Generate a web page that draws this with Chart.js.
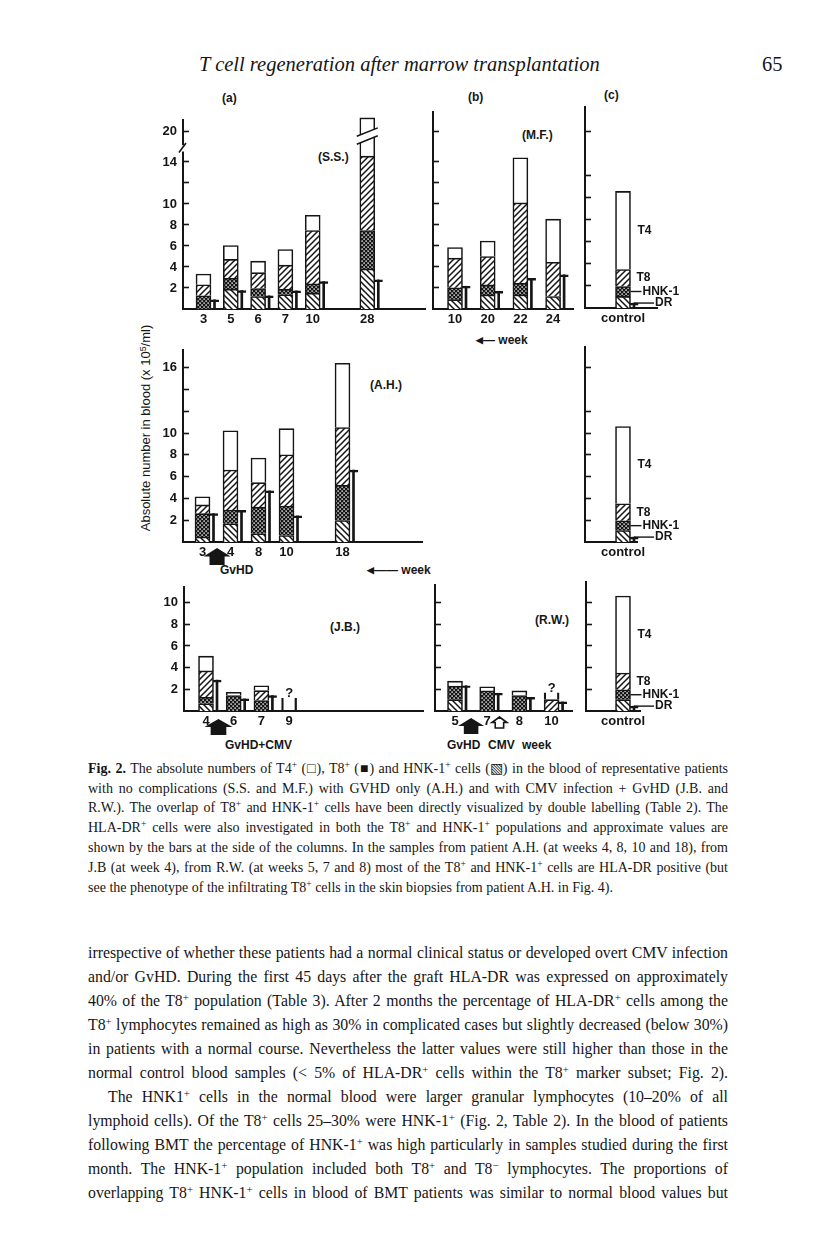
<!DOCTYPE html>
<html lang="en">
<head>
<meta charset="utf-8">
<title>Fig. 2 - T cell regeneration after marrow transplantation</title>
<script src="https://cdn.jsdelivr.net/npm/chart.js@4.4.1/dist/chart.umd.min.js"></script>
<style>
  html, body { margin: 0; padding: 0; background: #fff; }
  #page { position: relative; width: 816px; height: 1236px; overflow: hidden; color: #161616;
          font-family: 'Liberation Serif', 'Times New Roman', serif; }
  #page canvas { position: absolute; }
  .hd { position: absolute; top: 52px; font-size: 20.5px; line-height: 24px; white-space: nowrap; }
  .tag { position: absolute; font-family: 'Liberation Sans', Arial, sans-serif; font-weight: bold;
         font-size: 12px; line-height: 12px; white-space: nowrap; }
  .cap, .txt { position: absolute; left: 88px; width: 640px; white-space: nowrap;
               text-align: justify; text-align-last: justify; }
  .cap { font-size: 14px; line-height: 20px; }
  .txt { font-size: 15.8px; line-height: 24px; }
  .last { text-align-last: left; }
  .s { font-size: 0.68em; position: relative; top: -0.5em; line-height: 0; }
  .arr { font-size: 9px; position: relative; top: -1px; }
  .ylab { position: absolute; left: 145px; top: 428px; transform: translate(-50%, -50%) rotate(-90deg);
          font-family: 'Liberation Sans', Arial, sans-serif; font-size: 13px; white-space: nowrap; }
</style>
</head>
<body>
<div id="page">
  <div class="hd" style="left:199px;font-style:italic">T cell regeneration after marrow transplantation</div>
  <div class="hd" style="left:762px">65</div>

  <div class="tag" style="left:222px;top:92px">(a)</div>
  <div class="tag" style="left:468px;top:91px">(b)</div>
  <div class="tag" style="left:604px;top:89px">(c)</div>

  <div class="tag" style="left:318px;top:151px">(S.S.)</div>
  <div class="tag" style="left:522px;top:129px">(M.F.)</div>
  <div class="tag" style="left:370px;top:379px">(A.H.)</div>
  <div class="tag" style="left:330px;top:621px">(J.B.)</div>
  <div class="tag" style="left:535px;top:614px">(R.W.)</div>

  <div class="tag" style="left:476px;top:334px"><span class="arr">&#9664;</span>&#8212; week</div>
  <div class="tag" style="left:367px;top:564px"><span class="arr">&#9664;</span>&#8212;&#8212; week</div>
  <div class="tag" style="left:220px;top:564px">GvHD</div>
  <div class="tag" style="left:225px;top:739px">GvHD+CMV</div>
  <div class="tag" style="left:447px;top:739px">GvHD</div>
  <div class="tag" style="left:488px;top:739px">CMV</div>
  <div class="tag" style="left:522px;top:739px">week</div>

  <div class="ylab">Absolute number in blood (x 10<span class="s">5</span>/ml)</div>

  <div class="cap" style="top:759px"><b>Fig. 2.</b> The absolute numbers of T4<span class="s">+</span> (&#9633;), T8<span class="s">+</span> (&#9632;) and HNK-1<span class="s">+</span> cells (&#9639;) in the blood of representative patients</div>
  <div class="cap" style="top:779px">with no complications (S.S. and M.F.) with GVHD only (A.H.) and with CMV infection + GvHD (J.B. and</div>
  <div class="cap" style="top:798px">R.W.). The overlap of T8<span class="s">+</span> and HNK-1<span class="s">+</span> cells have been directly visualized by double labelling (Table 2). The</div>
  <div class="cap" style="top:818px">HLA-DR<span class="s">+</span> cells were also investigated in both the T8<span class="s">+</span> and HNK-1<span class="s">+</span> populations and approximate values are</div>
  <div class="cap" style="top:838px">shown by the bars at the side of the columns. In the samples from patient A.H. (at weeks 4, 8, 10 and 18), from</div>
  <div class="cap" style="top:858px">J.B (at week 4), from R.W. (at weeks 5, 7 and 8) most of the T8<span class="s">+</span> and HNK-1<span class="s">+</span> cells are HLA-DR positive (but</div>
  <div class="cap last" style="top:878px">see the phenotype of the infiltrating T8<span class="s">+</span> cells in the skin biopsies from patient A.H. in Fig. 4).</div>

  <div class="txt" style="top:941px">irrespective of whether these patients had a normal clinical status or developed overt CMV infection</div>
  <div class="txt" style="top:965px">and/or GvHD. During the first 45 days after the graft HLA-DR was expressed on approximately</div>
  <div class="txt" style="top:989px">40% of the T8<span class="s">+</span> population (Table 3). After 2 months the percentage of HLA-DR<span class="s">+</span> cells among the</div>
  <div class="txt" style="top:1013px">T8<span class="s">+</span> lymphocytes remained as high as 30% in complicated cases but slightly decreased (below 30%)</div>
  <div class="txt" style="top:1037px">in patients with a normal course. Nevertheless the latter values were still higher than those in the</div>
  <div class="txt" style="top:1061px">normal control blood samples (&lt; 5% of HLA-DR<span class="s">+</span> cells within the T8<span class="s">+</span> marker subset; Fig. 2).</div>
  <div class="txt" style="top:1085px;left:108px;width:620px">The HNK1<span class="s">+</span> cells in the normal blood were larger granular lymphocytes (10&#8211;20% of all</div>
  <div class="txt" style="top:1109px">lymphoid cells). Of the T8<span class="s">+</span> cells 25&#8211;30% were HNK-1<span class="s">+</span> (Fig. 2, Table 2). In the blood of patients</div>
  <div class="txt" style="top:1133px">following BMT the percentage of HNK-1<span class="s">+</span> was high particularly in samples studied during the first</div>
  <div class="txt" style="top:1157px">month. The HNK-1<span class="s">+</span> population included both T8<span class="s">+</span> and T8<span class="s">&#8722;</span> lymphocytes. The proportions of</div>
  <div class="txt" style="top:1181px">overlapping T8<span class="s">+</span> HNK-1<span class="s">+</span> cells in blood of BMT patients was similar to normal blood values but</div>
</div>

<script>
// Values (x 10^5 cells/ml). Each array is the top of one
// stacked segment, from the bottom up:
//   Hnk = HNK-1+ only (\\\), Dbl = T8+ HNK-1+ overlap (dotted),
//   T8 = T8+ (///), T4 = T4+ (open); Dr = HLA-DR+ bar beside the column.
// An empty week label leaves a gap on the axis.

// (a) S.S.
const ssWeeks = ['3', '5', '6', '7', '10', '', '28'];
const ssT4  = [3.33, 6.04, 4.56, 5.66, 8.93, null, 21.3];
const ssT8  = [2.30, 4.72, 3.46, 4.18, 7.48, null, 14.56];
const ssDbl = [1.26, 2.92, 1.95, 1.89, 2.39, null, 7.48];
const ssHnk = [0, 1.89, 1.19, 1.35, 1.51, null, 3.80];
const ssDr  = [0.88, 1.76, 1.26, 1.73, 2.61, null, 2.77];

// (b) M.F.
const mfWeeks = ['10', '20', '22', '24'];
const mfT4  = [5.85, 6.47, 14.4, 8.55];
const mfT8  = [4.84, 4.99, 10.1, 4.45];
const mfDbl = [2.02, 2.29, 2.46, 1.19];
const mfHnk = [0.89, 1.34, 1.34, 1.19];
const mfDr  = [2.17, 1.69, 2.91, 3.26];

// A.H.
const ahWeeks = ['3', '4', '8', '10', '', '18'];
const ahT4  = [4.15, 10.2, 7.7, 10.4, null, 16.4];
const ahT8  = [3.4, 6.6, 5.45, 8.0, null, 10.5];
const ahDbl = [2.6, 2.94, 3.2, 3.3, null, 5.2];
const ahHnk = [0.45, 1.67, 0.76, 0.6, null, 1.97];
const ahDr  = [2.6, 2.9, 4.7, 2.4, null, 6.6];

// J.B.
const jbWeeks = ['4', '6', '7', '9'];
const jbT4  = [5.06, 1.73, 2.33, 1.2];
const jbT8  = [3.7, 1.42, 1.88, 0];
const jbDbl = [1.27, 1.42, 0.97, 0];
const jbHnk = [0.67, 0, 0, 0];
const jbDr  = [2.85, 1.12, 1.42, null];
const jbUnsure = [false, false, false, true];   // column marked "?"

// R.W.
const rwWeeks = ['5', '7', '8', '10'];
const rwT4  = [2.75, 2.24, 1.85, 1.7];
const rwT8  = [2.3, 1.85, 1.43, 1.05];
const rwDbl = [2.3, 1.85, 1.43, 0];
const rwHnk = [1.05, 0, 0, 0];
const rwDr  = [2.33, 1.64, 1.25, 0.84];
const rwUnsure = [false, false, false, true];

// (c) normal control
const ctrlWeeks = ['control'];
const ctrlT4  = [10.6];
const ctrlT8  = [3.5];
const ctrlDbl = [1.95];
const ctrlHnk = [1.05];
const ctrlDr  = [0.45];

// y ticks
const topTicks = [2, 4, 6, 8, 10, 12, 14, 20];
const topTickLabels = ['2', '4', '6', '8', '10', '', '14', '20'];
const ahTicks = [2, 4, 6, 8, 10, 12, 14, 16];
const ahTickLabels = ['2', '4', '6', '8', '10', '', '', '16'];
const ctrlTicks = [2, 4, 6, 8, 10, 12, 16];
const lowTicks = [2, 4, 6, 8, 10];
const lowTickLabels = ['2', '4', '6', '8', '10'];

const INK = '#151515';
const SANS = "'Liberation Sans', Arial, sans-serif";
const YW = 34, XH = 34, PT = 18;   // y axis width, x axis height, top room
const DR_GAP = 11;                  // px from column centre to the DR bar

/**
 * Fill patterns for the segments
 */
function tile(n, draw) {
    const c = document.createElement('canvas');
    c.width = c.height = n;
    const g = c.getContext('2d');
    draw(g, n);
    return g.createPattern(c, 'repeat');
}
const fwdHatch = tile(6, (g, n) => {
    g.fillStyle = '#fff'; g.fillRect(0, 0, n, n);
    g.strokeStyle = INK; g.lineWidth = 1.5;
    g.beginPath();
    g.moveTo(-1, n + 1); g.lineTo(n + 1, -1);
    g.moveTo(-1, 1); g.lineTo(1, -1);
    g.moveTo(n - 1, n + 1); g.lineTo(n + 1, n - 1);
    g.stroke();
});
const backHatch = tile(6, (g, n) => {
    g.fillStyle = '#fff'; g.fillRect(0, 0, n, n);
    g.strokeStyle = INK; g.lineWidth = 1.5;
    g.beginPath();
    g.moveTo(-1, -1); g.lineTo(n + 1, n + 1);
    g.moveTo(n - 1, -1); g.lineTo(n + 1, 1);
    g.moveTo(-1, n - 1); g.lineTo(1, n + 1);
    g.stroke();
});
const dotFill = tile(4, (g, n) => {
    g.fillStyle = INK; g.fillRect(0, 0, n, n);
    g.fillStyle = '#fff';
    g.fillRect(0.4, 0.4, 1.4, 1.4);
    g.fillRect(2.4, 2.4, 1.4, 1.4);
});

/**
 * Extra drawing: "?" marks, axis breaks, GvHD/CMV arrows, control labels
 */
function makeDecor(cfg) {
    return {
        id: 'decor',
        afterDatasetsDraw(chart) {
            const ctx = chart.ctx;
            const a = chart.chartArea;
            const xs = chart.scales.x, ys = chart.scales.y;
            const py = v => ys.getPixelForValue(v);
            ctx.save();
            ctx.fillStyle = INK;
            ctx.strokeStyle = INK;

            // open columns and the broken column
            const meta = chart.getDatasetMeta(3);
            chart.data.datasets[3].data.forEach((d, i) => {
                const el = meta.data[i];
                if (d.open) {
                    ctx.font = 'bold 13px ' + SANS;
                    ctx.textAlign = 'center';
                    ctx.textBaseline = 'bottom';
                    ctx.fillText('?', el.x, el.y + 2);
                }
                if (d.cut && cfg.cut) {
                    const l = el.x - el.width / 2 - 3, r = el.x + el.width / 2 + 3;
                    const [c0, c1, g] = cfg.cut;
                    ctx.fillStyle = '#fff';
                    ctx.beginPath();
                    ctx.moveTo(l, py(c0)); ctx.lineTo(r, py(c1));
                    ctx.lineTo(r, py(c1 + g)); ctx.lineTo(l, py(c0 + g));
                    ctx.closePath(); ctx.fill();
                    ctx.lineWidth = 1.6;
                    ctx.beginPath();
                    ctx.moveTo(l, py(c0)); ctx.lineTo(r, py(c1));
                    ctx.moveTo(l, py(c0 + g)); ctx.lineTo(r, py(c1 + g));
                    ctx.stroke();
                    ctx.fillStyle = INK;
                }
            });

            if (cfg.axisBreak) {
                const x = a.left;
                ctx.fillStyle = '#fff';
                ctx.fillRect(x - 3, py(15.6), 6, py(15.0) - py(15.6));
                ctx.lineWidth = 1.6;
                ctx.beginPath();
                ctx.moveTo(x - 4, py(14.9)); ctx.lineTo(x + 3, py(15.8));
                ctx.stroke();
                ctx.fillStyle = INK;
            }

            // event arrows below the axis
            (cfg.marks || []).forEach(m => {
                const cx = xs.getPixelForValue(m.at), ty = a.bottom + m.dy;
                const hw = m.w / 2, sw = m.w * 0.28, hh = m.h * 0.5;
                ctx.beginPath();
                ctx.moveTo(cx, ty);
                ctx.lineTo(cx + hw, ty + hh); ctx.lineTo(cx + sw, ty + hh);
                ctx.lineTo(cx + sw, ty + m.h); ctx.lineTo(cx - sw, ty + m.h);
                ctx.lineTo(cx - sw, ty + hh); ctx.lineTo(cx - hw, ty + hh);
                ctx.closePath();
                if (m.open) { ctx.lineWidth = 1.6; ctx.stroke(); } else { ctx.fill(); }
            });

            // legend labels of the control column
            if (cfg.ctrl) {
                const c = cfg.ctrl;
                const el = meta.data[0];
                const right = el.x + el.width / 2;
                ctx.font = 'bold 12px ' + SANS;
                ctx.textAlign = 'left';
                ctx.textBaseline = 'middle';
                ctx.lineWidth = 1.4;
                ctx.fillText('T4', right + 7, py((c.t8 + c.t4) / 2));
                ctx.fillText('T8', right + 6, py((c.dbl + c.t8) / 2));
                const yh = py((c.hnk + c.dbl) / 2);
                ctx.beginPath(); ctx.moveTo(right, yh); ctx.lineTo(right + 11, yh); ctx.stroke();
                ctx.fillText('HNK-1', right + 12, yh);
                const sx = xs.getPixelForValue(c.drX), yd = py(c.dr);
                ctx.beginPath(); ctx.moveTo(sx, yd); ctx.lineTo(sx + 20, yd); ctx.stroke();
                ctx.fillText('DR', sx + 21, yd);
            }
            ctx.restore();
        }
    };
}

/**
 * Builds one panel: stacked columns as floating bars + DR side bars
 */
function makePanel(p) {
    const padR = p.padR || 6;
    const left = p.axisX - YW, top = p.top - PT;
    const cv = document.createElement('canvas');
    cv.width = p.right - left + padR;
    cv.height = p.base + XH - top;
    cv.style.left = left + 'px';
    cv.style.top = top + 'px';
    document.getElementById('page').appendChild(cv);

    // broken axis: values above brk.at are moved down by brk.shift
    const disp = v => (p.brk && v > p.brk.at) ? v - p.brk.shift : v;
    const seg = (lo, hi, extra) => hi.map((h, i) => {
        const l = lo ? lo[i] : 0;
        if (h == null || l == null || h - l < 0.01) return null;
        return Object.assign({x: i, y: [disp(l), disp(h)]}, extra ? extra(i) : {});
    }).filter(Boolean);
    const off = DR_GAP / p.slot;
    const drData = () => p.dr.map((v, i) => v == null ? null : {x: i + off, y: [0, v]}).filter(Boolean);

    const bar = {grouped: false, barThickness: 15, borderColor: INK, borderWidth: 1.6,
                 borderSkipped: 'bottom', clip: false};
    const isOpen = c => c.raw && c.raw.open;
    const tickFont = {family: SANS, size: 13, weight: 'bold'};

    new Chart(cv, {
        type: 'bar',
        data: {
            datasets: [
                {...bar, label: 'HNK-1+', data: seg(null, p.hnk), backgroundColor: backHatch},
                {...bar, label: 'T8+ HNK-1+', data: seg(p.hnk, p.dbl), backgroundColor: dotFill},
                {...bar, label: 'T8+', data: seg(p.dbl, p.t8), backgroundColor: fwdHatch},
                {...bar, label: 'T4+',
                    data: seg(p.t8, p.t4, i => ({
                        open: !!(p.unsure && p.unsure[i]),
                        cut: !!(p.brk && p.t4[i] > p.brk.at)
                    })),
                    backgroundColor: c => isOpen(c) ? 'rgba(0,0,0,0)' : '#fff',
                    borderWidth: c => isOpen(c) ? {left: 1.6, right: 1.6, top: 0, bottom: 0} : 1.6},
                {...bar, label: 'HLA-DR+', data: drData(), barThickness: 2,
                    backgroundColor: INK, borderWidth: 0},
                {...bar, label: 'HLA-DR+ top', data: drData(), barThickness: 9,
                    backgroundColor: 'rgba(0,0,0,0)',
                    borderWidth: {top: 1.8, left: 0, right: 0, bottom: 0}}
            ]
        },
        options: {
            responsive: false,
            animation: false,
            events: [],
            layout: {padding: {top: PT, right: padR, left: 0, bottom: 0}},
            plugins: {legend: {display: false}, tooltip: {enabled: false}},
            scales: {
                x: {
                    type: 'linear',
                    min: (p.axisX - p.c0) / p.slot,
                    max: (p.right - p.c0) / p.slot,
                    offset: false,
                    afterBuildTicks: s => {
                        s.ticks = p.weeks.map((w, i) => ({value: i, w})).filter(t => t.w);
                    },
                    ticks: {autoSkip: false, maxRotation: 0, padding: 3, color: INK, font: tickFont,
                            callback: v => p.weeks[Math.round(v)]},
                    grid: {display: false, drawTicks: false, offset: false},
                    border: {display: true, color: INK, width: 2},
                    afterFit: s => { s.height = XH; }
                },
                y: {
                    min: 0,
                    max: (p.base - p.top) / p.pxu,
                    afterBuildTicks: s => { s.ticks = p.yTicks.map(v => ({value: disp(v)})); },
                    ticks: {autoSkip: false, padding: 12, color: INK, font: tickFont,
                            callback: (v, i) => p.yLabels ? p.yLabels[i] : ''},
                    grid: {display: true, drawOnChartArea: false, drawTicks: true, tickLength: -6,
                           tickColor: INK, tickWidth: 1.6},
                    border: {display: true, color: INK, width: 2},
                    afterFit: s => { s.width = YW; }
                }
            }
        },
        plugins: [makeDecor({
            cut: p.brk ? [15.7, 16.5, 0.75] : null,
            axisBreak: p.axisBreak,
            marks: p.marks,
            ctrl: p.ctrl ? {t4: p.t4[0], t8: p.t8[0], dbl: p.dbl[0], hnk: p.hnk[0], dr: p.dr[0], drX: off} : null
        })]
    });
}

const ctrl = {weeks: ctrlWeeks, t4: ctrlT4, t8: ctrlT8, dbl: ctrlDbl, hnk: ctrlHnk, dr: ctrlDr,
              c0: 623, slot: 30, ctrl: true};

// top row
makePanel({weeks: ssWeeks, t4: ssT4, t8: ssT8, dbl: ssDbl, hnk: ssHnk, dr: ssDr,
           axisX: 183, right: 425, top: 118, base: 309, pxu: 10.6, c0: 203.5, slot: 27.3,
           yTicks: topTicks, yLabels: topTickLabels, brk: {at: 16, shift: 3.1}, axisBreak: true});
makePanel({weeks: mfWeeks, t4: mfT4, t8: mfT8, dbl: mfDbl, hnk: mfHnk, dr: mfDr,
           axisX: 433, right: 573, top: 110, base: 309, pxu: 10.6, c0: 455, slot: 32.7,
           yTicks: topTicks, brk: {at: 16, shift: 3.1}});
makePanel({...ctrl, axisX: 585, right: 657, top: 105, base: 308, pxu: 11.1, yTicks: ctrlTicks, padR: 30});

// middle row
makePanel({weeks: ahWeeks, t4: ahT4, t8: ahT8, dbl: ahDbl, hnk: ahHnk, dr: ahDr,
           axisX: 183, right: 422, top: 348, base: 542, pxu: 11, c0: 202.5, slot: 28,
           yTicks: ahTicks, yLabels: ahTickLabels,
           marks: [{at: 0.52, open: false, w: 27, h: 17, dy: 6}]});
makePanel({...ctrl, axisX: 585, right: 637, top: 345, base: 542, pxu: 11, yTicks: ctrlTicks, padR: 50});

// bottom row
makePanel({weeks: jbWeeks, t4: jbT4, t8: jbT8, dbl: jbDbl, hnk: jbHnk, dr: jbDr, unsure: jbUnsure,
           axisX: 184, right: 423, top: 585, base: 711, pxu: 11, c0: 206, slot: 27.7,
           yTicks: lowTicks, yLabels: lowTickLabels,
           marks: [{at: 0.45, open: false, w: 28, h: 16, dy: 8}]});
makePanel({weeks: rwWeeks, t4: rwT4, t8: rwT8, dbl: rwDbl, hnk: rwHnk, dr: rwDr, unsure: rwUnsure,
           axisX: 435, right: 572, top: 583, base: 711, pxu: 11, c0: 455, slot: 32.2,
           yTicks: lowTicks,
           marks: [{at: 0.5, open: false, w: 26, h: 16, dy: 7}, {at: 1.38, open: true, w: 15, h: 11, dy: 6}]});
makePanel({...ctrl, axisX: 586, right: 640, top: 580, base: 711, pxu: 11, yTicks: lowTicks, padR: 50});
</script>
</body>
</html>
